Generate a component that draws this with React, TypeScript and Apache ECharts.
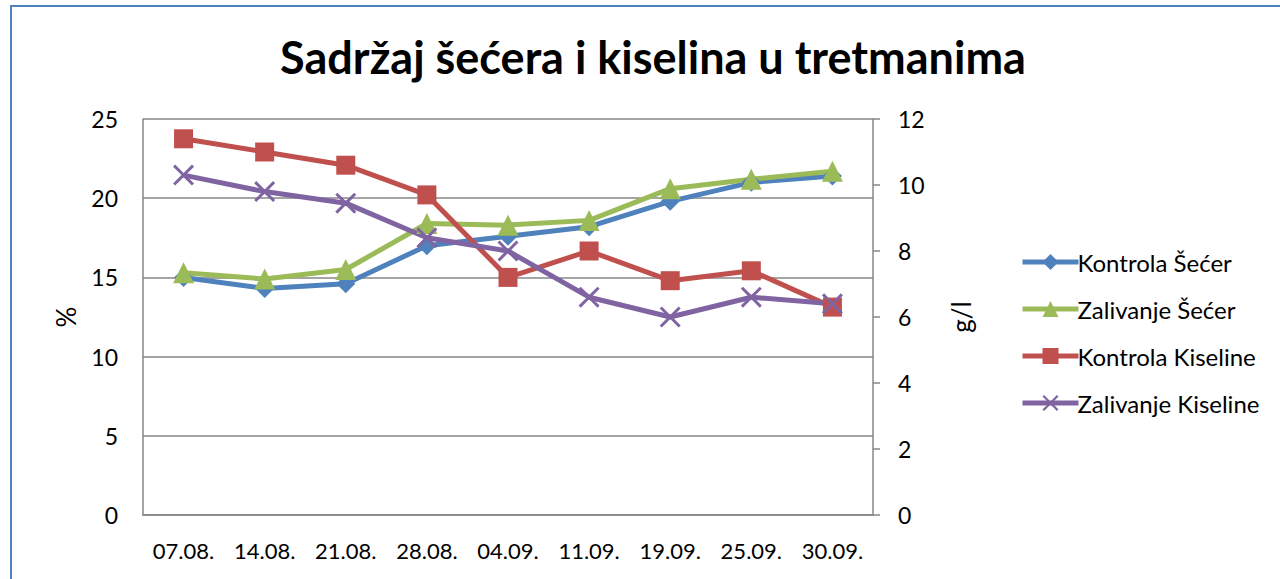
import React, { useEffect, useRef } from "react";
import * as echarts from "echarts";

const categories = ["07.08.", "14.08.", "21.08.", "28.08.", "04.09.", "11.09.", "19.09.", "25.09.", "30.09."];
const kontrolaSecer = [15.0, 14.3, 14.6, 17.0, 17.6, 18.2, 19.8, 21.0, 21.4];
const zalivanjeSecer = [15.3, 14.9, 15.5, 18.4, 18.3, 18.6, 20.6, 21.2, 21.7];
const kontrolaKiseline = [11.4, 11.0, 10.6, 9.7, 7.2, 8.0, 7.1, 7.4, 6.3];
const zalivanjeKiseline = [10.3, 9.8, 9.45, 8.4, 8.0, 6.6, 6.0, 6.6, 6.4];

const FONT = "Lato";
const GRAY = "#878787";
const X_SYMBOL = "path://M0,1 L1,0 L5,4 L9,0 L10,1 L6,5 L10,9 L9,10 L5,6 L1,10 L0,9 L4,5 Z";

export default function App() {
  const ref = useRef<HTMLDivElement>(null);
  useEffect(() => {
    if (!ref.current) return;
    const chart = echarts.init(ref.current, null, { renderer: "svg" });
    const mk = (name: string, data: number[], color: string, symbol: string, size: number, yAxisIndex: number) => ({
      name,
      type: "line",
      data,
      yAxisIndex,
      symbol,
      symbolSize: size,
      lineStyle: { color, width: 5 },
      itemStyle: { color },
      z: 3,
    });
    chart.setOption({
      animation: false,
      backgroundColor: "#ffffff",
      textStyle: { fontFamily: FONT },
      title: {
        text: "Sadržaj šećera i kiselina u tretmanima",
        left: 648,
        textAlign: "center",
        top: 29,
        textStyle: { fontFamily: FONT, fontWeight: "bold", fontSize: 45, color: "#000" },
      },
      graphic: [
        {
          type: "rect",
          shape: { x: 11, y: 6, width: 1300, height: 700 },
          style: { fill: "none", stroke: "#4F81BD", lineWidth: 2 },
          silent: true,
        },
      ],
      legend: {
        orient: "vertical",
        left: 1015,
        top: 245,
        itemWidth: 56,
        itemHeight: 20,
        itemGap: 23,
        lineStyle: { width: 5 },
        textStyle: { fontFamily: FONT, fontSize: 24, color: "#000", padding: [0, 0, 0, -6] },
        data: ["Kontrola Šećer", "Zalivanje Šećer", "Kontrola Kiseline", "Zalivanje Kiseline"],
      },
      grid: { left: 143, right: 407, top: 119, bottom: 64, containLabel: false },
      xAxis: {
        type: "category",
        data: categories,
        boundaryGap: true,
        axisLine: { show: true, lineStyle: { color: GRAY, width: 1.5 } },
        axisTick: { show: false },
        axisLabel: { fontFamily: FONT, fontSize: 22, color: "#000", margin: 24 },
      },
      yAxis: [
        {
          type: "value",
          min: 0,
          max: 25,
          interval: 5,
          name: "%",
          nameLocation: "middle",
          nameGap: 64,
          nameRotate: 90,
          nameTextStyle: { fontFamily: FONT, fontSize: 26, color: "#000" },
          axisLine: { show: true, lineStyle: { color: GRAY, width: 1.5 } },
          axisTick: { show: false },
          axisLabel: { fontFamily: FONT, fontSize: 23, color: "#000", margin: 25 },
          splitLine: { show: true, lineStyle: { color: GRAY, width: 1.5 } },
        },
        {
          type: "value",
          min: 0,
          max: 12,
          interval: 2,
          name: "g/l",
          nameLocation: "middle",
          nameGap: 75,
          nameRotate: 90,
          nameTextStyle: { fontFamily: FONT, fontSize: 26, color: "#000" },
          axisLine: { show: true, lineStyle: { color: GRAY, width: 1.5 } },
          axisTick: { show: true, inside: false, length: 7, lineStyle: { color: GRAY, width: 1.5 } },
          axisLabel: { fontFamily: FONT, fontSize: 23, color: "#000", margin: 25 },
          splitLine: { show: false },
        },
      ],
      series: [
        mk("Kontrola Šećer", kontrolaSecer, "#4F81BD", "diamond", 19, 0),
        mk("Zalivanje Šećer", zalivanjeSecer, "#9BBB59", "triangle", 21, 0),
        mk("Kontrola Kiseline", kontrolaKiseline, "#C0504D", "rect", 19, 1),
        mk("Zalivanje Kiseline", zalivanjeKiseline, "#8064A2", X_SYMBOL, 21, 1),
      ],
    });
    return () => chart.dispose();
  }, []);
  return <div ref={ref} style={{ position: "fixed", left: 0, top: 0, width: 1280, height: 579 }} />;
}
